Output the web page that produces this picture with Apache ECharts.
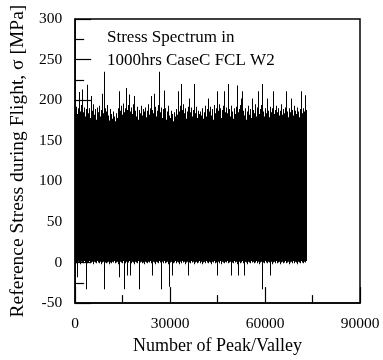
<!DOCTYPE html>
<html><head><meta charset="utf-8">
<script src="https://cdn.jsdelivr.net/npm/echarts@6/dist/echarts.min.js"></script>
<style>html,body{margin:0;padding:0;background:#fff}#c{width:383px;height:360px}</style>
</head><body><div id="c"></div>
<script>
// Cycles represented by each peak/valley block in the reduced spectrum
var blockSize = 300;
// Peak (max) stress per block, MPa
var peaks = [
188,192,183,190,210,186,194,213,185,191,180,189,219,193,184,190,178,205,187,195,
182,189,176,191,185,193,180,188,208,184,235,190,179,186,194,181,175,189,183,177,
186,180,174,184,178,190,211,187,193,182,196,185,190,179,215,188,194,207,186,191,
183,195,205,187,180,192,176,188,184,193,181,189,174,186,191,179,187,195,182,190,
205,188,184,208,192,180,187,194,235,185,191,178,189,183,212,190,176,186,193,181,
178,187,183,174,185,180,189,182,211,186,193,181,220,188,195,184,190,177,186,192,
202,185,191,180,188,220,184,192,178,187,183,175,186,181,190,177,185,193,180,189,
202,186,192,181,189,176,194,184,190,211,187,195,182,190,178,188,193,211,185,191,
184,220,189,180,193,186,177,190,183,192,218,185,179,189,194,202,211,187,181,190,
176,186,193,182,189,178,202,188,184,195,180,187,191,211,183,189,194,220,186,180,
190,184,202,187,179,192,185,190,211,183,188,176,193,185,190,181,187,195,182,189,
184,191,211,186,179,190,185,202,188,181,193,177,187,183,191,186,179,189,211,184,
190,186,206,188
];
// Valley (min) stress per block, MPa
var valleys = [
0,-1,-18,1,0,-2,1,0,-1,2,0,-33,1,-1,0,2,-1,0,1,-2,
1,0,-1,2,0,-1,1,-2,0,1,-33,0,2,-1,0,1,-2,0,-1,1,
0,2,-1,0,1,-2,-18,1,0,-1,2,-33,0,-1,1,-16,0,2,-16,-1,
1,0,-2,1,0,-1,2,-33,0,1,-1,0,2,-2,1,0,-1,1,0,2,
-1,-16,1,0,-2,1,0,-1,2,0,-33,1,-1,0,2,-1,0,1,-2,-30,
0,1,-16,-1,0,2,-1,1,0,-2,1,0,-1,2,0,1,-2,0,1,-16,
0,-1,2,0,1,-2,0,1,-1,0,2,-1,0,1,-2,0,1,-1,2,0,
-1,1,0,-2,1,0,2,-1,0,-16,1,-1,0,2,-2,1,0,-1,1,0,
2,-1,0,1,-16,0,-1,2,0,1,-2,-16,0,1,-1,0,2,-1,-16,1,
0,-2,1,0,-1,2,0,1,-1,0,2,-1,0,1,-2,0,1,-33,0,-1,
2,0,-1,1,0,-16,1,-2,0,1,-1,0,2,-1,0,1,-2,0,1,-1,
0,2,-1,0,1,-2,0,1,-1,2,0,-1,1,0,-2,1,0,-1,2,0,
-1,1,0,2
];
var xTicks = [0, 30000, 60000, 90000];
var yTicks = [-50, 0, 50, 100, 150, 200, 250, 300];
var titleLines = ['Stress Spectrum in', '1000hrs CaseC FCL W2'];
var xName = 'Number of Peak/Valley';
var yName = 'Reference Stress during Flight, σ [MPa]';

var data = [];
for (var i = 0; i < peaks.length; i++) {
  data.push([i * blockSize, valleys[i], peaks[i]]);
}
var font = '"Liberation Serif","Times New Roman",serif';
var chart = echarts.init(document.getElementById('c'), null, {renderer: 'canvas'});
chart.setOption({
  animation: false,
  backgroundColor: '#fff',
  title: {
    text: titleLines.join('\n'), left: 102, top: 21,
    textStyle: {fontFamily: font, fontSize: 17, fontWeight: 'normal', color: '#000', lineHeight: 23}
  },
  grid: {left: 73, right: 23, top: 19, bottom: 54, show: true, borderColor: '#000', borderWidth: 1.5, backgroundColor: 'transparent'},
  xAxis: {
    type: 'value', min: xTicks[0], max: xTicks[xTicks.length - 1], interval: xTicks[1] - xTicks[0],
    name: xName, nameLocation: 'middle', nameGap: 30,
    nameTextStyle: {fontFamily: font, fontSize: 18, color: '#000'},
    axisLine: {show: true, onZero: false, lineStyle: {color: '#000', width: 1.5}},
    axisTick: {show: true, inside: true, length: 16, lineStyle: {color: '#000', width: 1.2}},
    minorTick: {show: true, splitNumber: 2, length: 8, lineStyle: {color: '#000', width: 1.2}},
    axisLabel: {fontFamily: font, fontSize: 15.5, color: '#000', margin: 13, formatter: function (v) { return String(v); }},
    splitLine: {show: false}
  },
  yAxis: {
    type: 'value', min: yTicks[0], max: yTicks[yTicks.length - 1], interval: yTicks[1] - yTicks[0],
    name: yName, nameLocation: 'middle', nameGap: 41,
    nameTextStyle: {fontFamily: font, fontSize: 19.5, color: '#000'},
    axisLine: {show: true, onZero: false, lineStyle: {color: '#000', width: 1.5}},
    axisTick: {show: true, inside: true, length: 16, lineStyle: {color: '#000', width: 1.2}},
    minorTick: {show: true, splitNumber: 2, length: 9, lineStyle: {color: '#000', width: 1.2}},
    axisLabel: {fontFamily: font, fontSize: 15.5, color: '#000', margin: 13, formatter: function (v) { return String(v); }},
    splitLine: {show: false}
  },
  series: [{
    type: 'custom', data: data, z: 1,
    encode: {x: 0, y: [1, 2]},
    renderItem: function (params, api) {
      var x0 = api.value(0), lo = api.value(1), hi = api.value(2);
      var pTop = api.coord([x0, hi]);
      var pBot = api.coord([x0 + blockSize, lo]);
      var xa = Math.round(pTop[0]);
      var xb = Math.max(Math.round(pBot[0]), xa + 1);
      return {
        type: 'rect',
        shape: {x: xa, y: pTop[1], width: xb - xa, height: pBot[1] - pTop[1]},
        style: {fill: '#000', stroke: null}
      };
    }
  }]
});
</script></body></html>
